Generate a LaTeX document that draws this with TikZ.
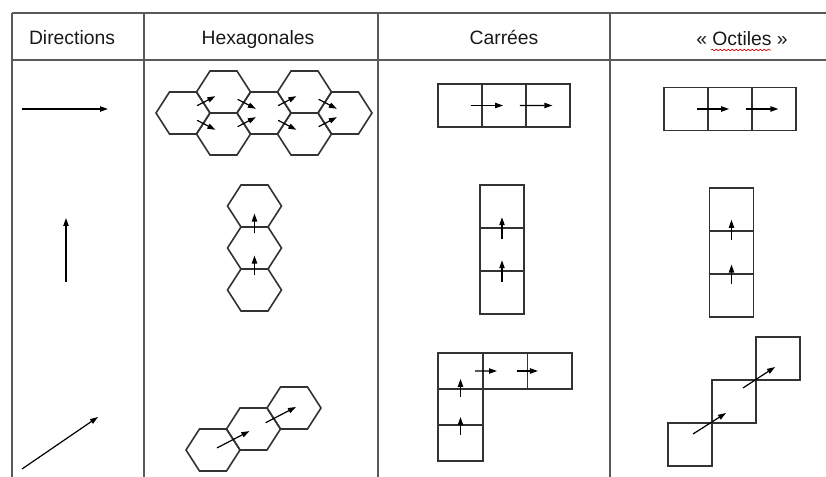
\documentclass[tikz,border=0pt]{standalone}
\usepackage{fontspec}
\setmainfont{Liberation Sans}
\usetikzlibrary{positioning,calc,arrows.meta,decorations.pathmorphing}
\definecolor{rulegray}{RGB}{90,90,90}
\newcommand{\hexcell}[2]{%
  \coordinate (#1) at (#2);
  \draw[cell] (#1) ++(-27,0) -- ++(13.5,-21) -- ++(27,0) -- ++(13.5,21) -- ++(-13.5,21) -- ++(-27,0) -- cycle;}

\begin{document}
\begin{tikzpicture}[x=0.75pt, y=-0.75pt,
    rule/.style={rulegray, line width=1.3pt},
    cell/.style={black!80, line width=1.2pt},
    sq/.style={draw=black!80, line width=1.2pt, minimum width=33pt, minimum height=32.25pt, inner sep=0pt, outer sep=0pt},
    sqflat/.style={sq, minimum width=33.4pt, minimum height=27pt},
    dir/.style={line width=0.9pt, -{Triangle[length=6pt,width=4pt]}},
    head/.style={anchor=base, text=black!90, font=\fontsize{14.5}{17}\selectfont}]
  \useasboundingbox (0,0) rectangle (826,477);
  % table
  \draw[rule] (12,13) -- (826,13);
  \draw[rule] (12,60) -- (826,60);
  \foreach \x in {12,144,378,610} \draw[rule] (\x,13) -- (\x,477);
  \node[head] (hdir) at (72,45) {Directions};
  \node[head] (hhex) at (258,45) {Hexagonales};
  \node[head] (hcar) at (504,45) {Carrées};
  \node[head] (hoct) at (742,46) {« Octiles »};
  \draw[red!80!black, line width=0.5pt, decorate, decoration={snake, amplitude=0.6pt, segment length=3pt}] (711,50) -- (771,50);

  % directions
  \coordinate (e0) at (22,109);
  \coordinate (e1) at (108,109);
  \coordinate (n0) at (66,282);
  \coordinate (n1) at (66,218);
  \coordinate (ne0) at (22,469);
  \coordinate (ne1) at (98,417);
  \draw[dir] (e0) -- (e1);
  \draw[dir] (n0) -- (n1);
  \draw[dir] (ne0) -- (ne1);

  % hexagonales
  \hexcell{hl}{183,113}
  \hexcell{hu1}{223.5,92}
  \hexcell{hd1}{223.5,134}
  \hexcell{hm}{264,113}
  \hexcell{hu2}{304.5,92}
  \hexcell{hd2}{304.5,134}
  \hexcell{hr}{345,113}
  \foreach \a/\b in {hl/hu1, hl/hd1, hu1/hm, hd1/hm, hm/hu2, hm/hd2, hu2/hr, hd2/hr}
    \draw[dir] ($(\a)!0.35!(\b)$) -- ($(\a)!0.8!(\b)$);

  \hexcell{vt}{254.5,206}
  \hexcell{vm}{254.5,248}
  \hexcell{vb}{254.5,290}
  \draw[dir] ($(vb)!0.35!(vm)$) -- ($(vb)!0.82!(vm)$);
  \draw[dir] ($(vm)!0.35!(vt)$) -- ($(vm)!0.82!(vt)$);

  \hexcell{ga}{213,450}
  \hexcell{gb}{253.5,429}
  \hexcell{gc}{294,408}
  \draw[dir] ($(ga)!0.1!(gb)$) -- ($(ga)!0.9!(gb)$);
  \draw[dir] ($(gb)!0.3!(gc)$) -- ($(gb)!1.05!(gc)$);

  % carrees
  \node[sq] (ca1) at (460,105.5) {};
  \node[sq, right=0pt of ca1] (ca2) {};
  \node[sq, right=0pt of ca2] (ca3) {};
  \draw[dir] ($(ca1)!0.24!(ca2)$) -- ($(ca1)!0.98!(ca2)$);
  \draw[dir] ($(ca2)!0.36!(ca3)$) -- ($(ca2)!1.1!(ca3)$);

  \node[sq] (cb1) at (502,206.5) {};
  \node[sq, below=0pt of cb1] (cb2) {};
  \node[sq, below=0pt of cb2] (cb3) {};
  \draw[dir] ($(cb3)!0.25!(cb2)$) -- ($(cb3)!0.75!(cb2)$);
  \draw[dir] ($(cb2)!0.25!(cb1)$) -- ($(cb2)!0.75!(cb1)$);

  \node[sqflat] (cc1) at (460.5,371) {};
  \node[sqflat, right=0pt of cc1] (cc2) {};
  \node[sqflat, right=0pt of cc2] (cc3) {};
  \node[sqflat, below=0pt of cc1] (cc4) {};
  \node[sqflat, below=0pt of cc4] (cc5) {};
  \draw[dir] ($(cc1)!0.33!(cc2)$) -- ($(cc1)!0.82!(cc2)$);
  \draw[dir] ($(cc2)!0.27!(cc3)$) -- ($(cc2)!0.74!(cc3)$);
  \draw[dir] ($(cc4)!0.28!(cc1)$) -- ($(cc4)!0.78!(cc1)$);
  \draw[dir] ($(cc5)!0.22!(cc4)$) -- ($(cc5)!0.72!(cc4)$);

  % octiles
  \node[sq] (oa1) at (686,109) {};
  \node[sq, right=0pt of oa1] (oa2) {};
  \node[sq, right=0pt of oa2] (oa3) {};
  \draw[dir] ($(oa1)!0.24!(oa2)$) -- ($(oa1)!0.98!(oa2)$);
  \draw[dir] ($(oa2)!0.37!(oa3)$) -- ($(oa2)!1.1!(oa3)$);

  \node[sq] (ob1) at (731.5,209.5) {};
  \node[sq, below=0pt of ob1] (ob2) {};
  \node[sq, below=0pt of ob2] (ob3) {};
  \draw[dir] ($(ob2)!0.28!(ob1)$) -- ($(ob2)!0.76!(ob1)$);
  \draw[dir] ($(ob3)!0.27!(ob2)$) -- ($(ob3)!0.72!(ob2)$);

  \node[sq] (oc1) at (690,444.5) {};
  \node[sq, above right=0pt of oc1] (oc2) {};
  \node[sq, above right=0pt of oc2] (oc3) {};
  \draw[dir] ($(oc1.north east)+(-19,11)$) -- ($(oc1.north east)+(14,-10)$);
  \draw[dir] ($(oc2.north east)+(-13,8)$) -- ($(oc2.north east)+(19,-13)$);
\end{tikzpicture}
\end{document}
